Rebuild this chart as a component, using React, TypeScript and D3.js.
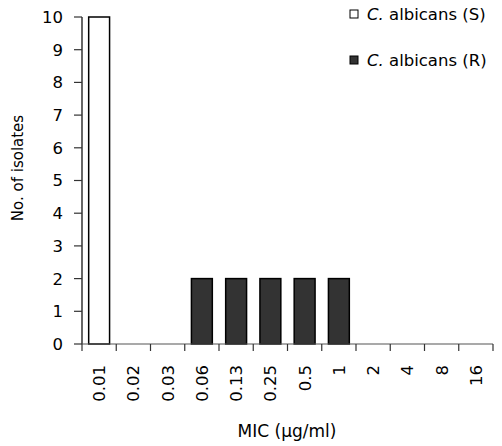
import React from "react";
import * as d3 from "d3";

const categories = ["0.01", "0.02", "0.03", "0.06", "0.13", "0.25", "0.5", "1", "2", "4", "8", "16"];
const susceptible = [10, 0, 0, 0, 0, 0, 0, 0, 0, 0, 0, 0];
const resistant = [0, 0, 0, 2, 2, 2, 2, 2, 0, 0, 0, 0];
const yTicks = [0, 1, 2, 3, 4, 5, 6, 7, 8, 9, 10];
const seriesNames = ["C. albicans (S)", "C. albicans (R)"];
const seriesColors = ["#ffffff", "#333333"];

const W = 502, H = 446;
const left = 82, right = 493, top = 17, bottom = 344;
const FONT = "'DejaVu Sans', sans-serif";

export default function App() {
  const x = d3.scaleBand<string>().domain(categories).range([left, right]).paddingInner(0.39).paddingOuter(0.195);
  const xb = d3.scaleBand<string>().domain(categories).range([left, right]);
  const y = d3.scaleLinear().domain([0, 10]).range([bottom, top]);
  const series = [susceptible, resistant];
  return (
    <svg width={W} height={H} style={{ position: "absolute", left: 0, top: 0, fontFamily: FONT }}>
      <rect width={W} height={H} fill="#fff" />
      {series.map((vals, si) =>
        vals.map((v, i) =>
          v > 0 ? (
            <rect key={`${si}-${i}`} x={x(categories[i])} y={y(v)} width={x.bandwidth()} height={y(0) - y(v)}
              fill={seriesColors[si]} stroke="#000" strokeWidth={1.5} />
          ) : null
        )
      )}
      {/* y axis */}
      <line x1={left} x2={left} y1={top} y2={bottom} stroke="#000" strokeWidth={1.2} />
      {yTicks.map(t => (
        <g key={t}>
          <line x1={left - 8} x2={left} y1={y(t)} y2={y(t)} stroke="#333" strokeWidth={1.2} />
          <text x={63} y={y(t)} dy="0.36em" textAnchor="end" fontSize={16.5} fill="#000">{t}</text>
        </g>
      ))}
      {/* x axis */}
      <line x1={left} x2={right} y1={bottom} y2={bottom} stroke="#555" strokeWidth={1.2} />
      {categories.concat(["_end"]).map((c, i) => {
        const xx = i < categories.length ? (xb(c) as number) : right;
        return <line key={`t${i}`} x1={xx} x2={xx} y1={bottom} y2={bottom + 7} stroke="#333" strokeWidth={1.2} />;
      })}
      {categories.map(c => {
        const cx = (xb(c) as number) + xb.bandwidth() / 2;
        return (
          <text key={c} transform={`translate(${cx},365) rotate(-90)`} dy="0.36em" textAnchor="end" fontSize={16.5} fill="#000">{c}</text>
        );
      })}
      <text x={287} y={437} textAnchor="middle" fontSize={17} fill="#000">MIC (µg/ml)</text>
      <text transform={`translate(18,168) rotate(-90)`} dy="0.36em" textAnchor="middle" fontSize={15} fill="#000">No. of isolates</text>
      {/* legend */}
      {seriesNames.map((n, i) => {
        const yy = 14 + i * 46;
        const parts = n.split(" ");
        return (
          <g key={n}>
            <rect x={350} y={yy - 4} width={8} height={8} fill={seriesColors[i]} stroke="#000" strokeWidth={1} />
            <text x={367} y={yy} dy="0.36em" fontSize={16.5} fill="#000">
              <tspan fontStyle="italic">{parts[0]}</tspan>
              <tspan>{" " + parts.slice(1).join(" ")}</tspan>
            </text>
          </g>
        );
      })}
    </svg>
  );
}
